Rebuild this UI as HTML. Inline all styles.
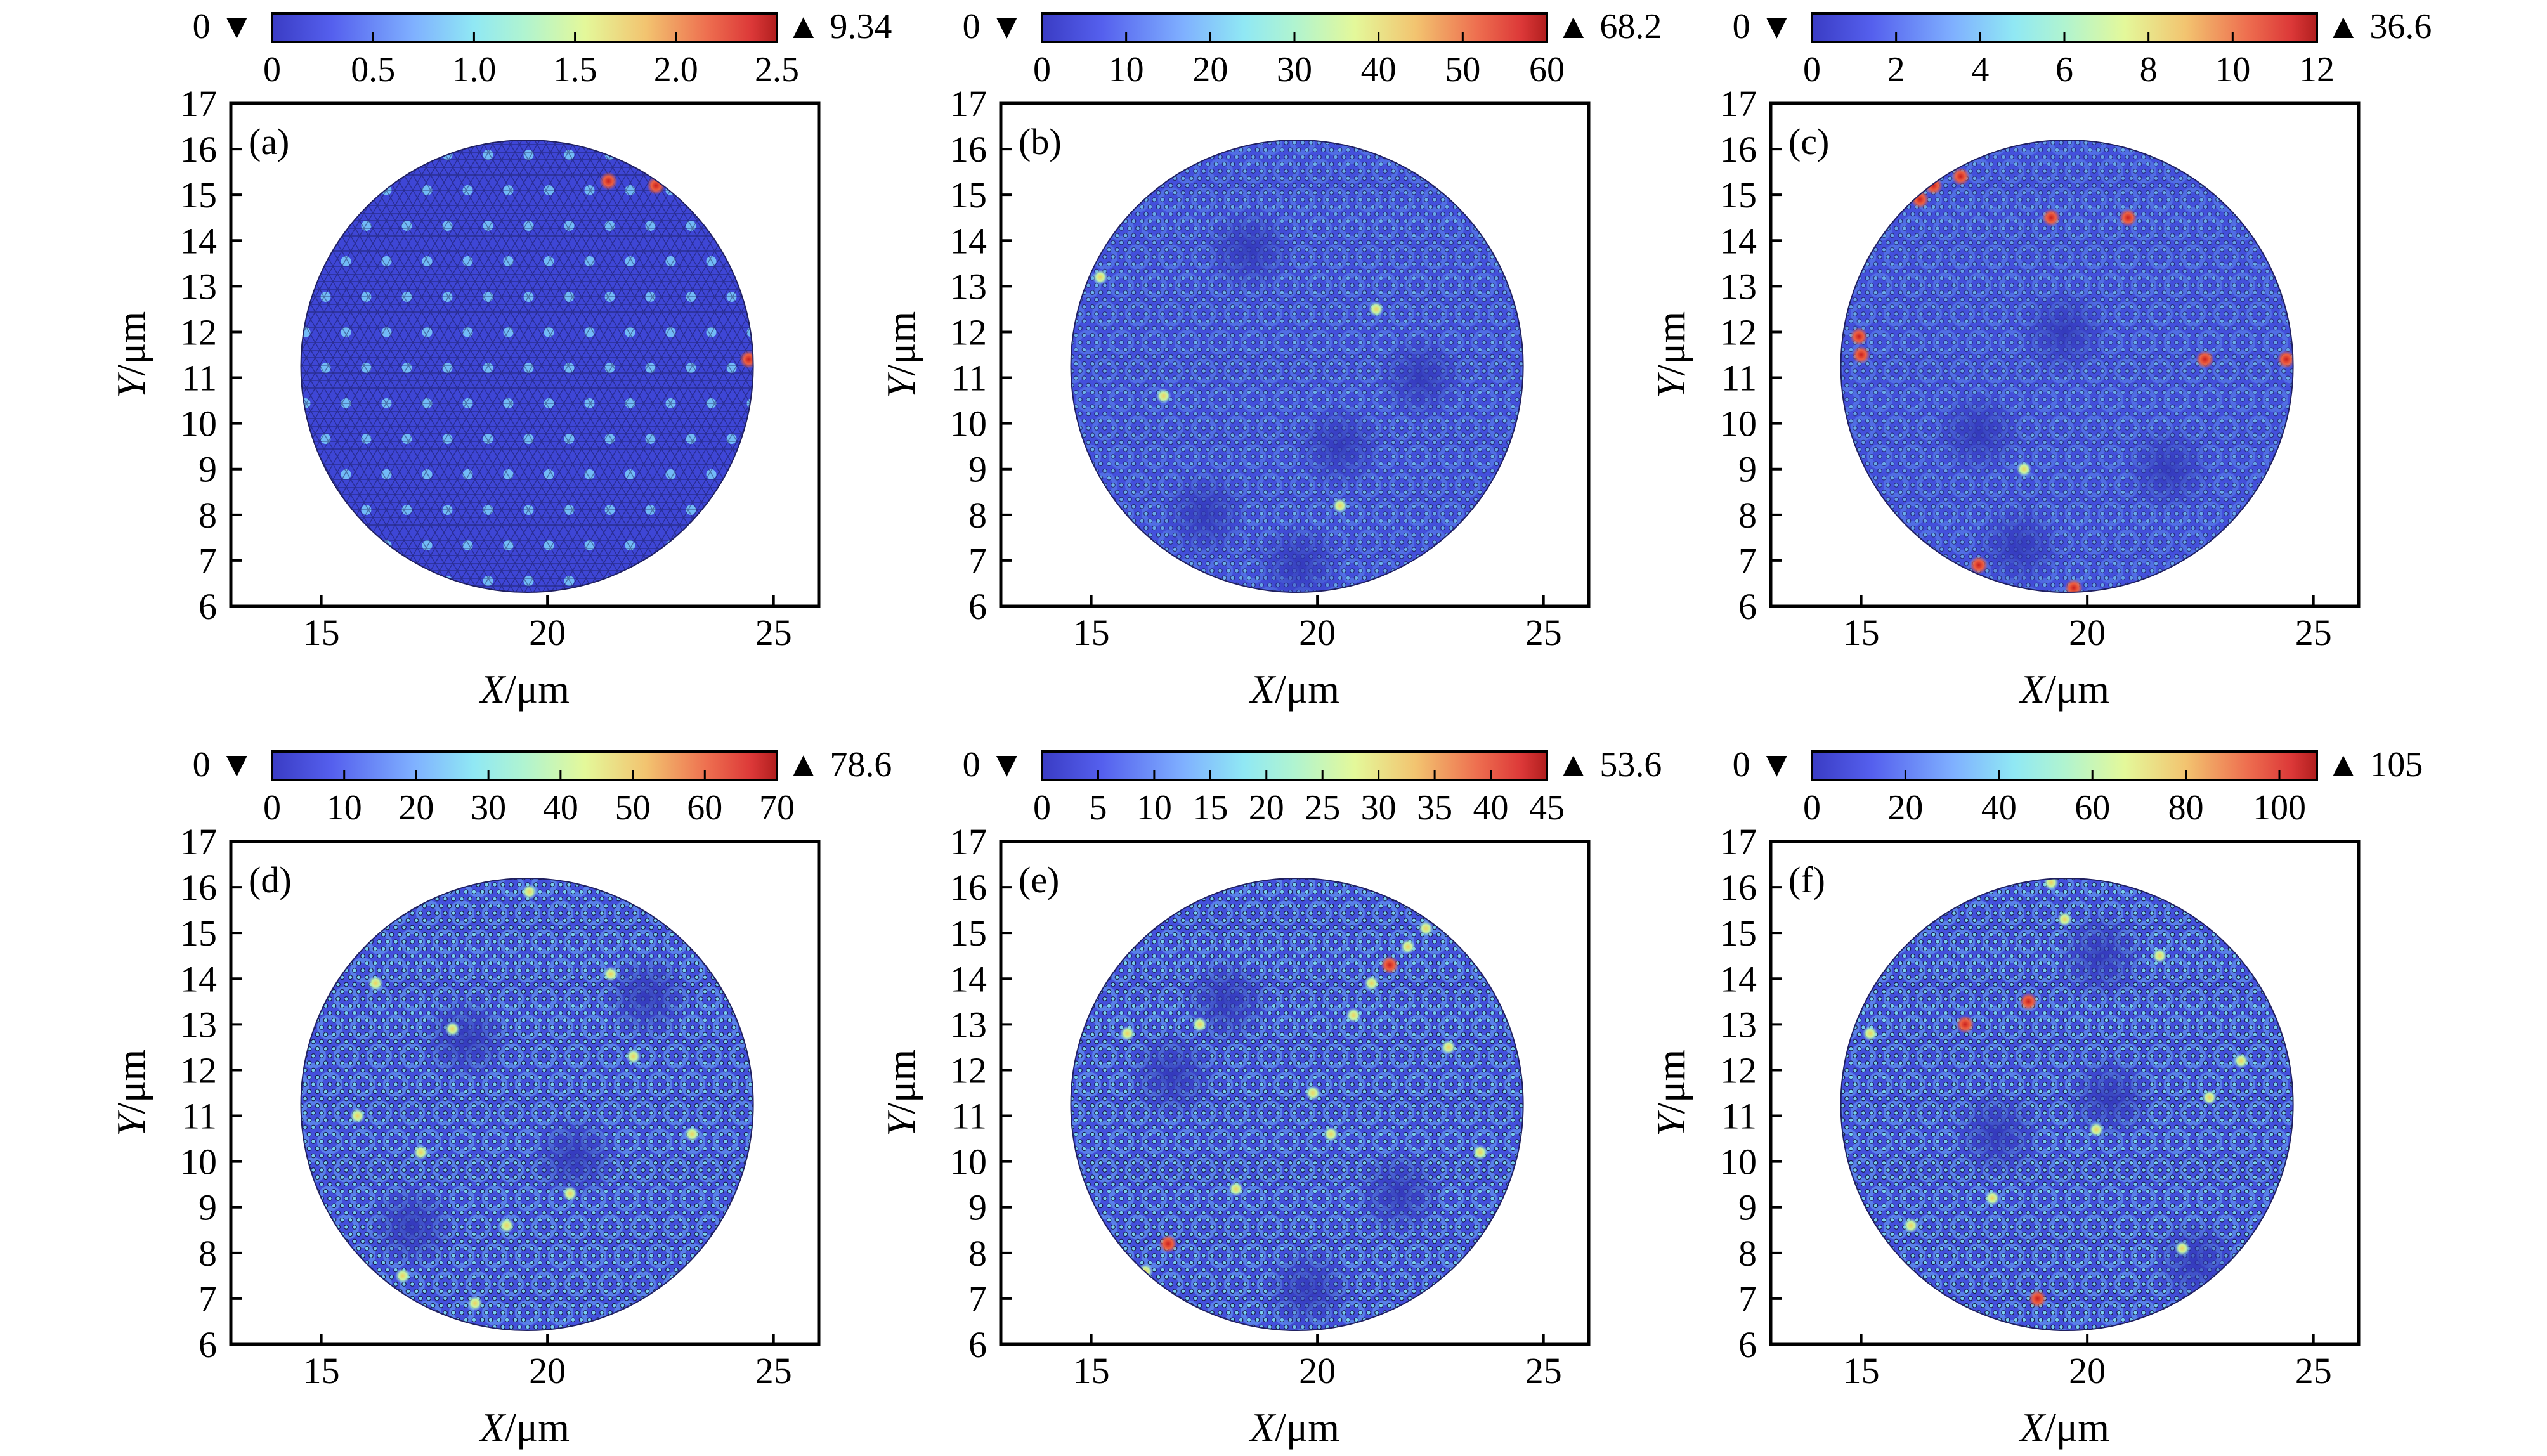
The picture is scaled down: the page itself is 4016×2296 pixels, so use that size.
<!DOCTYPE html>
<html><head><meta charset="utf-8"><style>
html,body{margin:0;padding:0;background:#fff;}
svg text{font-family:"Liberation Serif",serif;fill:#000;}
</style></head><body>
<svg id="fig" xmlns="http://www.w3.org/2000/svg" width="4016" height="2291" viewBox="0 0 4016 2291">
<defs>
<linearGradient id="cmap" x1="0" x2="1" y1="0" y2="0">
<stop offset="0" stop-color="#3a3cc4"/><stop offset="0.12" stop-color="#5560ee"/>
<stop offset="0.28" stop-color="#7fb0ff"/><stop offset="0.4" stop-color="#90e8f4"/>
<stop offset="0.5" stop-color="#b0f4d0"/><stop offset="0.62" stop-color="#e4f89a"/>
<stop offset="0.74" stop-color="#f2c470"/><stop offset="0.86" stop-color="#ee7050"/>
<stop offset="0.95" stop-color="#dc3838"/><stop offset="1" stop-color="#b01e1e"/>
</linearGradient>
<pattern id="mesh" width="14" height="24" patternUnits="userSpaceOnUse">
<path d="M0 0 L14 0 M0 12 L14 12 M0 0 L7 12 L14 0 M0 24 L7 12 L14 24" stroke="#101040" stroke-width="1.4" fill="none" opacity="0.45"/>
</pattern>
<pattern id="dots" width="13" height="22.5" patternUnits="userSpaceOnUse">
<g fill="#80e2f2" stroke="#101030" stroke-width="1.2">
<circle cx="0" cy="0" r="3.3"/><circle cx="13" cy="0" r="3.3"/><circle cx="6.5" cy="11.25" r="3.3"/>
<circle cx="0" cy="22.5" r="3.3"/><circle cx="13" cy="22.5" r="3.3"/></g>
</pattern>
<pattern id="cells" width="52" height="90" patternUnits="userSpaceOnUse">
<g fill="none" stroke="#78c8ff" stroke-width="8">
<circle cx="0" cy="0" r="16"/><circle cx="52" cy="0" r="16"/><circle cx="26" cy="45" r="16"/>
<circle cx="0" cy="90" r="16"/><circle cx="52" cy="90" r="16"/></g>
</pattern>
<pattern id="lattice" width="64" height="112" patternUnits="userSpaceOnUse" x="1.5" y="20">
<circle cx="0" cy="0" r="8" fill="#7fd8ff" opacity="0.8"/><circle cx="64" cy="0" r="8" fill="#7fd8ff" opacity="0.8"/>
<circle cx="32" cy="56" r="8" fill="#7fd8ff" opacity="0.8"/><circle cx="0" cy="112" r="8" fill="#7fd8ff" opacity="0.8"/><circle cx="64" cy="112" r="8" fill="#7fd8ff" opacity="0.8"/>
</pattern>
<radialGradient id="hotR"><stop offset="0" stop-color="#c81e1e"/><stop offset="0.5" stop-color="#ee6040"/><stop offset="1" stop-color="#ee6040" stop-opacity="0"/></radialGradient>
<radialGradient id="hotY"><stop offset="0" stop-color="#f0d060"/><stop offset="0.5" stop-color="#c8f4a0"/><stop offset="1" stop-color="#90e8f4" stop-opacity="0"/></radialGradient>
<radialGradient id="hotC"><stop offset="0" stop-color="#a0f4e0"/><stop offset="1" stop-color="#80d0ff" stop-opacity="0"/></radialGradient>
<radialGradient id="darkB"><stop offset="0" stop-color="#3034b4" stop-opacity="0.8"/><stop offset="1" stop-color="#3034b4" stop-opacity="0"/></radialGradient>
</defs>
</svg>
<script>
const panelLabels = ['(a)','(b)','(c)','(d)','(e)','(f)'];
const cbMaxes = [2.5, 60, 12, 70, 45, 108];
const cbTicks = [
 ['0','0.5','1.0','1.5','2.0','2.5'],
 ['0','10','20','30','40','50','60'],
 ['0','2','4','6','8','10','12'],
 ['0','10','20','30','40','50','60','70'],
 ['0','5','10','15','20','25','30','35','40','45'],
 ['0','20','40','60','80','100']];
const overMax = ['9.34','68.2','36.6','78.6','53.6','105'];
const xTicks = [15, 20, 25];
const yTicks = [6,7,8,9,10,11,12,13,14,15,16,17];
const diskCX = 19.55, diskCY = 11.25, diskR = 5.0;
const dotOpacity = [0, 0.6, 0.55, 0.85, 0.85, 0.85];
const cellOpacity = [0, 0.25, 0.25, 0.4, 0.4, 0.4];
const hotX = [
 [21.35,22.4,24.45],
 [16.6,21.3,15.2,20.5],
 [16.3,16.6,14.95,15.0,22.6,24.4,17.6,19.7,17.2,20.9,18.6,19.2],
 [15.8,17.2,19.6,21.9,22.8,16.8,17.9,23.2,20.5,18.4,16.2,21.4,19.1],
 [21.2,21.6,22.0,22.4,20.8,16.7,16.2,19.9,17.4,20.3,22.9,18.2,15.8,23.6],
 [17.3,18.7,19.2,15.2,21.6,22.7,18.9,17.9,16.1,23.4,20.2,19.5,22.1]];
const hotY = [
 [15.3,15.2,11.4],
 [10.6,12.5,13.2,8.2],
 [14.9,15.2,11.9,11.5,11.4,11.4,6.9,6.4,15.4,14.5,9.0,14.5],
 [11.0,10.2,15.9,12.3,15.2,7.5,12.9,10.6,9.3,6.9,13.9,14.1,8.6],
 [13.9,14.3,14.7,15.1,13.2,8.2,7.6,11.5,13.0,10.6,12.5,9.4,12.8,10.2],
 [13.0,13.5,16.1,12.8,14.5,11.4,7.0,9.2,8.6,12.2,10.7,15.3,8.1]];
const hotLvl = [
 [2,2,2],
 [1,1,1,1],
 [2,2,2,2,2,2,2,2,2,2,1,2],
 [1,1,1,1,1,1,1,1,1,1,1,1,1],
 [1,2,1,1,1,2,1,1,1,1,1,1,1,1],
 [2,2,1,1,1,1,2,1,1,1,1,1,1]];
const blobX = [[],[18.5,20.5,17.5,22.3,19.6],[19.5,17.6,21.8,18.5],[18.2,20.6,17.0,22.2],[18.0,21.8,19.8,16.8],[20.5,18.0,22.4,20.3]];
const blobY = [[],[13.8,9.5,8.0,11.0,6.9],[12.0,9.8,9.0,7.3],[12.7,10.1,8.6,13.6],[13.5,9.3,7.2,11.9],[11.4,10.6,7.8,14.5]];

const NS='http://www.w3.org/2000/svg';
const svg=document.getElementById('fig');
function mk(tag,attrs,parent){const e=document.createElementNS(NS,tag);for(const k in attrs)e.setAttribute(k,attrs[k]);(parent||svg).appendChild(e);return e;}

const FX0=364, FY0=163, FW=927, FH=793, DX=1214, DY=1164;
const BX0=429, BW=796, BY0=21, BH=45;
const xmin=13,xmax=26,ymin=6,ymax=17;

for(let p=0;p<6;p++){
 const ox=(p%3)*DX, oy=Math.floor(p/3)*DY;
 const g=mk('g',{});
 
 
 const sx=v=>ox+FX0+(v-xmin)/(xmax-xmin)*FW;
 const sy=v=>oy+FY0+FH-(v-ymin)/(ymax-ymin)*FH;
 const ux=FW/(xmax-xmin);
 const cb=mk('g',{},g);
 
 
 const bx=ox+BX0, by=oy+BY0;
 mk('rect',{x:bx,y:by,width:BW,height:BH,fill:'url(#cmap)',stroke:'#000','stroke-width':4},cb);
 const cmax=cbMaxes[p];
 cbTicks[p].forEach(t=>{
  const v=parseFloat(t); const tx=bx+v/cmax*BW;
  if(v>0 && v<cmax) mk('line',{x1:tx,x2:tx,y1:by+BH,y2:by+BH-16,stroke:'#000','stroke-width':3},cb);
  const tl=mk('text',{x:tx,y:oy+128,'font-size':56,'text-anchor':'middle'},cb);
  tl.textContent=t;
  
  
 });
 const zl=mk('text',{x:bx-28,y:oy+60,'font-size':56,'text-anchor':'end'},cb);
 zl.textContent='0 ▼';
 
 
 const ml=mk('text',{x:bx+BW+14,y:oy+60,'font-size':56},cb);
 ml.textContent='▲ '+overMax[p];
 
 
 const cid='clip'+p;
 const cp=mk('clipPath',{id:cid},g);
 mk('circle',{cx:sx(diskCX),cy:sy(diskCY),r:diskR*ux},cp);
 const disk=mk('g',{'clip-path':'url(#'+cid+')'},g);
 
 
 mk('rect',{x:sx(xmin),y:sy(ymax),width:FW,height:FH,fill:p==0?'#3e46d6':'#4450dc'},disk);
 if(p==0){
  mk('rect',{x:sx(xmin),y:sy(ymax),width:FW,height:FH,fill:'url(#lattice)'},disk);
  mk('rect',{x:sx(xmin),y:sy(ymax),width:FW,height:FH,fill:'url(#mesh)'},disk);
 } else {
  mk('rect',{x:sx(xmin),y:sy(ymax),width:FW,height:FH,fill:'url(#cells)',opacity:cellOpacity[p]},disk);
  mk('rect',{x:sx(xmin),y:sy(ymax),width:FW,height:FH,fill:'url(#dots)',opacity:dotOpacity[p]},disk);
  blobX[p].forEach((bxv,i)=>{
   const b=mk('circle',{cx:sx(bxv),cy:sy(blobY[p][i]),r:1.0*ux,fill:'url(#darkB)'},disk);
   
   
  });
 }
 hotX[p].forEach((hx,i)=>{
  const lv=hotLvl[p][i];
  const h=mk('circle',{cx:sx(hx),cy:sy(hotY[p][i]),r:(lv==2?0.2:0.17)*ux,fill:lv==2?'url(#hotR)':(lv==1?'url(#hotY)':'url(#hotC)')},disk);
  
  
 });
 mk('circle',{cx:sx(diskCX),cy:sy(diskCY),r:diskR*ux,fill:'none',stroke:'#202060','stroke-width':2},g);
 const fr=mk('rect',{x:ox+FX0,y:oy+FY0,width:FW,height:FH,fill:'none',stroke:'#000','stroke-width':5},g);
 
 
 xTicks.forEach(t=>{
  mk('line',{x1:sx(t),x2:sx(t),y1:oy+FY0+FH,y2:oy+FY0+FH-17,stroke:'#000','stroke-width':4},g);
  const tl=mk('text',{x:sx(t),y:oy+1017,'font-size':58,'text-anchor':'middle'},g);
  tl.textContent=t;
  
  
 });
 yTicks.forEach(t=>{
  if(t>ymin&&t<ymax) mk('line',{x1:ox+FX0,x2:ox+FX0+17,y1:sy(t),y2:sy(t),stroke:'#000','stroke-width':4},g);
  const tl=mk('text',{x:ox+FX0-22,y:sy(t)+20,'font-size':58,'text-anchor':'end'},g);
  tl.textContent=t;
  
  
 });
 const pl=mk('text',{x:ox+392,y:oy+243,'font-size':58},g);
 pl.textContent=panelLabels[p];
 
 
 const xl=mk('text',{x:ox+FX0+FW/2,y:oy+1108,'font-size':64,'text-anchor':'middle'},g);
 xl.innerHTML='<tspan font-style="italic">X</tspan>/μm';
 
 
 const yx=ox+228, yy=oy+FY0+FH/2;
 const yl=mk('text',{x:yx,y:yy,'font-size':64,'text-anchor':'middle',transform:'rotate(-90 '+yx+' '+yy+')'},g);
 yl.innerHTML='<tspan font-style="italic">Y</tspan>/μm';
 
 
}
</script>
</body></html>
